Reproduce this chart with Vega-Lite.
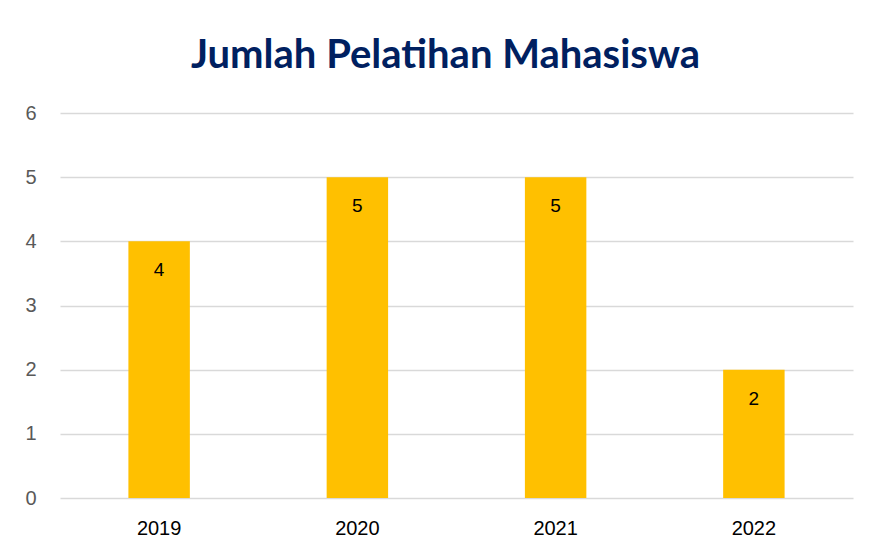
{
  "$schema": "https://vega.github.io/schema/vega-lite/v6.json",
  "autosize": "none",
  "width": 793,
  "height": 385,
  "padding": {"left": 60, "top": 113, "right": 21, "bottom": 57},
  "background": "white",
  "title": {
    "text": "Jumlah Pelatihan Mahasiswa",
    "font": "Lato",
    "fontSize": 40,
    "fontWeight": "bold",
    "color": "#002060",
    "anchor": "middle",
    "baseline": "alphabetic",
    "offset": -5,
    "dx": -11
  },
  "data": {
    "values": [
      {"tahun": "2019", "jumlah": 4},
      {"tahun": "2020", "jumlah": 5},
      {"tahun": "2021", "jumlah": 5},
      {"tahun": "2022", "jumlah": 2}
    ]
  },
  "encoding": {
    "x": {
      "field": "tahun",
      "type": "ordinal",
      "title": null,
      "scale": {"paddingInner": 0.69, "paddingOuter": 0.345},
      "axis": {
        "labelAngle": 0,
        "labelFont": "Liberation Sans",
        "labelFontSize": 20,
        "labelColor": "#000000",
        "labelPadding": 20,
        "ticks": false,
        "domain": false
      }
    },
    "y": {
      "field": "jumlah",
      "type": "quantitative",
      "title": null,
      "scale": {"domain": [0, 6]},
      "axis": {
        "values": [0, 1, 2, 3, 4, 5, 6],
        "labelFont": "Liberation Sans",
        "labelFontSize": 20,
        "labelColor": "#595959",
        "labelPadding": 24,
        "ticks": false,
        "domain": false,
        "gridColor": "#d9d9d9",
        "gridWidth": 1.5
      }
    }
  },
  "layer": [
    {"mark": {"type": "bar", "color": "#FFC000"}},
    {
      "mark": {"type": "text", "baseline": "middle", "dy": 29, "font": "Liberation Sans", "fontSize": 19, "color": "#000000"},
      "encoding": {"text": {"field": "jumlah", "type": "quantitative"}}
    }
  ],
  "config": {"view": {"stroke": null}}
}
